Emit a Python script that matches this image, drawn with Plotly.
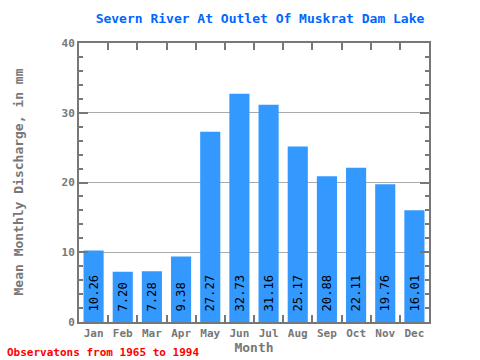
import plotly.graph_objects as go

months = ["Jan", "Feb", "Mar", "Apr", "May", "Jun", "Jul", "Aug", "Sep", "Oct", "Nov", "Dec"]
values = [10.26, 7.20, 7.28, 9.38, 27.27, 32.73, 31.16, 25.17, 20.88, 22.11, 19.76, 16.01]
y_ticks = [0, 10, 20, 30, 40]

mono = "DejaVu Sans Mono"
gray = "#777777"

fig = go.Figure(go.Bar(
    x=months, y=values,
    marker=dict(color="#3399ff", line=dict(width=0)),
    texttemplate="\u00a0%{y:.2f}", textposition="inside", textangle=-90,
    insidetextanchor="start",
    textfont=dict(family=mono, size=13, color="black"),
    hoverinfo="skip",
))

fig.update_layout(
    width=480, height=360,
    margin=dict(l=79, r=51, t=43, b=38),
    paper_bgcolor="white", plot_bgcolor="white",
    bargap=0.31,
    showlegend=False,
    title=dict(text="<b>Severn River At Outlet Of Muskrat Dam Lake</b>",
               font=dict(family=mono, size=13, color="#0066ff"),
               x=260/480, xanchor="center", y=1 - 18/360, yanchor="middle"),
    xaxis=dict(
        title=dict(text="<b>Month</b>", font=dict(family=mono, size=13, color=gray), standoff=2),
        tickfont=dict(family=mono, size=11, color=gray, weight="bold"),
        tickangle=0, automargin=False, layer="above traces",
        showline=True, linewidth=2, linecolor=gray, mirror="ticks",
        ticks="inside", tickson="boundaries", ticklen=7, tickwidth=2, tickcolor=gray,
        showgrid=False,
    ),
    yaxis=dict(
        range=[0, 40], tickvals=y_ticks, automargin=False, layer="above traces",
        tickfont=dict(family=mono, size=11, color=gray, weight="bold"),
        showline=True, linewidth=2, linecolor=gray, mirror="ticks",
        ticks="inside", ticklen=9, tickwidth=2, tickcolor=gray,
        minor=dict(dtick=2, ticks="inside", ticklen=4, tickwidth=2, tickcolor=gray, showgrid=False),
        showgrid=True, gridcolor="#aaaaaa", gridwidth=1,
        zeroline=False,
    ),
)

fig.add_annotation(text="<b>Mean Monthly Discharge, in mm</b>", xref="paper", yref="paper",
                   x=-61/350, y=0.5, xanchor="center", yanchor="middle", textangle=-90,
                   showarrow=False, font=dict(family=mono, size=13, color=gray))

fig.add_annotation(text="<b>Observatons from 1965 to 1994</b>", xref="paper", yref="paper",
                   x=-74/350, y=-30/279, xanchor="left", yanchor="middle", showarrow=False,
                   font=dict(family=mono, size=11, color="#ff0000"))

fig.write_html("out.html", config={"displayModeBar": False},
               post_script="document.body.style.margin='0';document.body.style.overflow='hidden';")
